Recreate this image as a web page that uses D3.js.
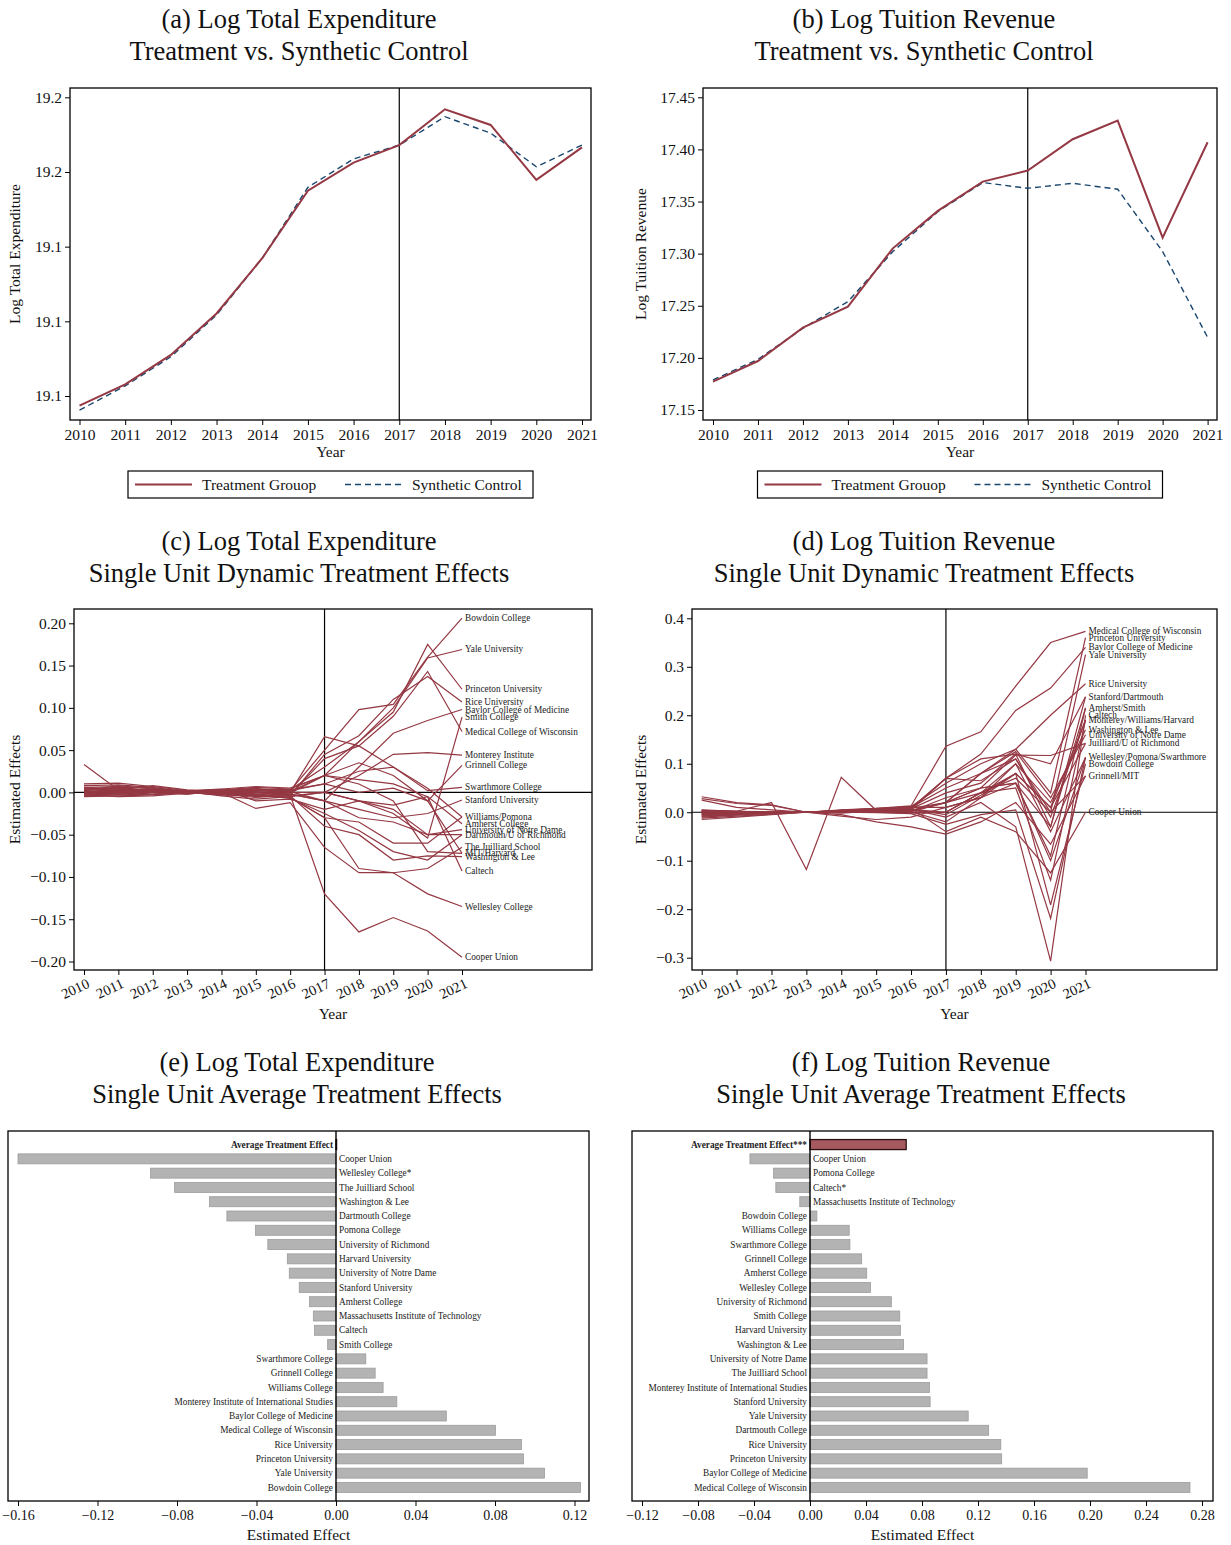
<!DOCTYPE html>
<html>
<head>
<meta charset="utf-8">
<script src="https://cdn.jsdelivr.net/npm/d3@7"></script>
<style>
  html, body { margin: 0; padding: 0; background: #fff; }
  svg { display: block; font-family: "Liberation Serif", "Times New Roman", serif; }
</style>
</head>
<body>
<svg id="fig" width="1231" height="1545"></svg>
<script>
// ---------------- data ----------------
const years = [2010, 2011, 2012, 2013, 2014, 2015, 2016, 2017, 2018, 2019, 2020, 2021];
const treatYear = 2017;

// (a) log total expenditure, treated group vs synthetic control
const expTreated   = [19.0974, 19.1031, 19.1110, 19.1221, 19.1369, 19.1550, 19.1625, 19.1672, 19.1768, 19.1726, 19.1579, 19.1666];
const expSynthetic = [19.0962, 19.1027, 19.1105, 19.1217, 19.1369, 19.1559, 19.1635, 19.1672, 19.1748, 19.1704, 19.1614, 19.1672];
const expTicks = [19.10, 19.12, 19.14, 19.16, 19.18];

// (b) log tuition revenue, treated group vs synthetic control
const tuiTreated   = [17.1772, 17.1970, 17.2290, 17.2492, 17.3051, 17.3410, 17.3691, 17.3797, 17.4098, 17.4277, 17.3154, 17.4069];
const tuiSynthetic = [17.1788, 17.1986, 17.2284, 17.2540, 17.3020, 17.3403, 17.3682, 17.3627, 17.3675, 17.3618, 17.3020, 17.2197];
const tuiTicks = [17.15, 17.20, 17.25, 17.30, 17.35, 17.40, 17.45];

const units = [
  "Bowdoin College", "Yale University", "Princeton University", "Rice University",
  "Baylor College of Medicine", "Smith College", "Medical College of Wisconsin",
  "Monterey Institute of International Studies", "Grinnell College", "Swarthmore College",
  "Stanford University", "Williams College", "Pomona College", "Amherst College",
  "University of Notre Dame", "Dartmouth College", "University of Richmond",
  "The Juilliard School", "Massachusetts Institute of Technology", "Harvard University",
  "Washington & Lee", "Caltech", "Wellesley College", "Cooper Union"
];

// (c) single-unit effects on log total expenditure, one row per unit (same order as units)
const expEffects = [
  [ 0.004,  0.006,  0.005,  0.001, -0.002,  0.003,  0.002,  0.050,  0.098,  0.104,  0.160,  0.206],
  [ 0.002,  0.008,  0.004,  0.000, -0.001,  0.004,  0.003,  0.030,  0.060,  0.100,  0.159,  0.169],
  [-0.003, -0.002,  0.002,  0.001,  0.003,  0.006,  0.004,  0.020,  0.060,  0.095,  0.175,  0.122],
  [ 0.010,  0.011,  0.007,  0.002, -0.003,  0.000, -0.004,  0.045,  0.067,  0.110,  0.137,  0.107],
  [ 0.001,  0.003,  0.002, -0.001,  0.002, -0.004, -0.002, -0.010,  0.030,  0.070,  0.085,  0.098],
  [-0.004, -0.003, -0.002,  0.001,  0.004, -0.010, -0.008, -0.020, -0.010, -0.025, -0.054,  0.089],
  [ 0.006,  0.004,  0.003,  0.000, -0.002, -0.006, -0.003,  0.040,  0.055,  0.090,  0.143,  0.072],
  [ 0.008,  0.009,  0.006,  0.001, -0.004, -0.008, -0.005,  0.000,  0.020,  0.045,  0.047,  0.044],
  [-0.002,  0.000,  0.001,  0.000,  0.001,  0.002,  0.001,  0.020,  0.035,  0.020, -0.010,  0.032],
  [ 0.003,  0.002,  0.000, -0.002,  0.002,  0.004,  0.003,  0.010,  0.025,  0.030,  0.002,  0.006],
  [-0.005, -0.004, -0.003,  0.000,  0.003,  0.001, -0.002, -0.010, -0.020, -0.030, -0.025, -0.009],
  [ 0.005,  0.004,  0.003,  0.001, -0.001, -0.003,  0.000,  0.066,  0.055,  0.030,  0.005, -0.029],
  [ 0.000,  0.001, -0.002, -0.001,  0.002, -0.002, -0.006, -0.030, -0.035, -0.060, -0.060, -0.029],
  [ 0.001,  0.000,  0.001,  0.001,  0.000, -0.005, -0.004,  0.000, -0.010, -0.015, -0.005, -0.037],
  [-0.003, -0.005, -0.004, -0.001,  0.003,  0.002,  0.000,  0.000, -0.010, -0.020, -0.050, -0.044],
  [ 0.002, -0.001,  0.000,  0.001,  0.002, -0.003, -0.007, -0.025, -0.045, -0.070, -0.080, -0.050],
  [-0.001,  0.002,  0.003,  0.000, -0.003, -0.001,  0.001, -0.010, -0.030, -0.035, -0.050, -0.050],
  [ 0.004,  0.003,  0.008,  0.003,  0.000, -0.019, -0.012, -0.065, -0.095, -0.095, -0.090, -0.065],
  [-0.002, -0.001,  0.001,  0.000,  0.001,  0.003,  0.002,  0.010,  0.000,  0.005, -0.010, -0.072],
  [ 0.003,  0.005,  0.002,  0.000, -0.001,  0.000, -0.001,  0.020,  0.010, -0.010, -0.070, -0.072],
  [ 0.000,  0.002,  0.001, -0.001,  0.001,  0.000, -0.004, -0.040, -0.050, -0.080, -0.075, -0.076],
  [-0.001, -0.002,  0.000,  0.002,  0.004,  0.007,  0.005,  0.020,  0.015,  0.010, -0.005, -0.093],
  [ 0.006,  0.007,  0.005,  0.000, -0.003, -0.004, -0.006, -0.030, -0.090, -0.095, -0.120, -0.135],
  [ 0.033,  0.003,  0.001, -0.002,  0.002,  0.005, -0.003, -0.120, -0.165, -0.148, -0.164, -0.195]
];
const expEffectTicks = [-0.20, -0.15, -0.10, -0.05, 0.00, 0.05, 0.10, 0.15, 0.20];
// end-of-line labels: [text, index of the unit whose 2021 value places it]
const expEndLabels = [
  ["Bowdoin College", 0], ["Yale University", 1], ["Princeton University", 2],
  ["Rice University", 3], ["Baylor College of Medicine", 4], ["Smith College", 5],
  ["Medical College of Wisconsin", 6], ["Monterey Institute", 7], ["Grinnell College", 8],
  ["Swarthmore College", 9], ["Stanford University", 10], ["Williams/Pomona", 11],
  ["Amherst College", 13], ["University of Notre Dame", 14], ["Dartmouth/U of Richmond", 15],
  ["The Juilliard School", 17], ["MIT/Harvard", 18], ["Washington & Lee", 20],
  ["Caltech", 21], ["Wellesley College", 22], ["Cooper Union", 23]
];

// (d) single-unit effects on log tuition revenue, same unit order
const tuiEffects = [
  [ 0.005,  0.002,  0.000,  0.000,  0.002,  0.004,  0.006, -0.005,  0.035,  0.080, -0.191,  0.100],
  [-0.005, -0.003, -0.001,  0.000,  0.003,  0.006,  0.010,  0.050,  0.080,  0.110,  0.000,  0.325],
  [-0.010, -0.006, -0.002,  0.000,  0.004,  0.007,  0.012,  0.060,  0.100,  0.130,  0.040,  0.360],
  [ 0.002,  0.001,  0.000,  0.001,  0.003,  0.005,  0.008,  0.020,  0.080,  0.130,  0.200,  0.265],
  [-0.008, -0.005, -0.002,  0.000,  0.004,  0.006,  0.009,  0.070,  0.120,  0.210,  0.256,  0.340],
  [ 0.003,  0.001, -0.001,  0.000,  0.002,  0.004,  0.003,  0.020,  0.050,  0.060, -0.030,  0.215],
  [-0.012, -0.008, -0.004,  0.000,  0.005,  0.008,  0.013,  0.136,  0.166,  0.260,  0.350,  0.373],
  [ 0.004,  0.002,  0.000,  0.000,  0.002,  0.003,  0.005,  0.070,  0.065,  0.110, -0.010,  0.190],
  [ 0.000,  0.001, -0.001,  0.000,  0.001,  0.002,  0.000,  0.000,  0.040,  0.070,  0.000,  0.075],
  [-0.003, -0.002, -0.001,  0.000,  0.002,  0.001,  0.004,  0.020,  0.050,  0.060, -0.100,  0.113],
  [-0.006, -0.004, -0.002,  0.000,  0.003,  0.005,  0.007,  0.040,  0.060,  0.120, -0.030,  0.238],
  [ 0.002,  0.000, -0.001,  0.000,  0.001,  0.000, -0.002,  0.000,  0.040,  0.050, -0.140,  0.190],
  [ 0.001,  0.000,  0.000,  0.000,  0.000, -0.001, -0.003, -0.025, -0.005,  0.005, -0.219,  0.113],
  [-0.002, -0.001,  0.000,  0.000,  0.000,  0.002,  0.001, -0.020,  0.030,  0.060, -0.090,  0.215],
  [ 0.003,  0.002,  0.001,  0.000,  0.001,  0.003,  0.002,  0.020,  0.080,  0.125,  0.030,  0.160],
  [-0.004, -0.003, -0.001,  0.000,  0.002,  0.005,  0.008,  0.070,  0.110,  0.120,  0.100,  0.238],
  [ 0.001,  0.001,  0.000,  0.000,  0.001,  0.002,  0.001,  0.020,  0.040,  0.080,  0.010,  0.142],
  [-0.001,  0.000,  0.000,  0.000,  0.001,  0.000,  0.002,  0.030,  0.050,  0.118,  0.117,  0.142],
  [ 0.025,  0.010,  0.005,  0.000, -0.005, -0.020, -0.030, -0.045, -0.020,  0.020, -0.066,  0.075],
  [ 0.032,  0.020,  0.015,  0.000, -0.008, -0.015, -0.010,  0.010,  0.030,  0.080,  0.010,  0.190],
  [-0.008, -0.004, -0.002,  0.000,  0.003,  0.004,  0.006,  0.000,  0.040,  0.100,  0.020,  0.170],
  [ 0.003,  0.002,  0.020, -0.118,  0.072,  0.004,  0.006, -0.010,  0.020, -0.030, -0.307,  0.200],
  [-0.015, -0.010, -0.005,  0.000,  0.004,  0.008,  0.010,  0.010,  0.030,  0.100, -0.040,  0.113],
  [ 0.028,  0.018,  0.014,  0.000, -0.002,  0.003,  0.008, -0.040, -0.010, -0.040, -0.125,  0.000]
];
const tuiEffectTicks = [-0.3, -0.2, -0.1, 0.0, 0.1, 0.2, 0.3, 0.4];
const tuiEndLabels = [
  ["Medical College of Wisconsin", 6], ["Princeton University", 2], ["Baylor College of Medicine", 4],
  ["Yale University", 1], ["Rice University", 3], ["Stanford/Dartmouth", 10],
  ["Amherst/Smith", 13], ["Caltech", 21], ["Monterey/Williams/Harvard", 7],
  ["Washington & Lee", 20], ["University of Notre Dame", 14], ["Juilliard/U of Richmond", 17],
  ["Wellesley/Pomona/Swarthmore", 22], ["Bowdoin College", 0], ["Grinnell/MIT", 8],
  ["Cooper Union", 23]
];

// (e) average effects on log total expenditure
const expAvgLabels = [
  "Average Treatment Effect", "Cooper Union", "Wellesley College*", "The Juilliard School",
  "Washington & Lee", "Dartmouth College", "Pomona College", "University of Richmond",
  "Harvard University", "University of Notre Dame", "Stanford University", "Amherst College",
  "Massachusetts Institute of Technology", "Caltech", "Smith College", "Swarthmore College",
  "Grinnell College", "Williams College", "Monterey Institute of International Studies",
  "Baylor College of Medicine", "Medical College of Wisconsin", "Rice University",
  "Princeton University", "Yale University", "Bowdoin College"
];
const expAvgValues = [
  0.0003, -0.160, -0.0933, -0.0812, -0.0636, -0.0549, -0.0405, -0.0343, -0.0245, -0.0235,
  -0.0185, -0.0133, -0.0114, -0.0108, -0.0042, 0.0150, 0.0197, 0.0237, 0.0306, 0.0555,
  0.0802, 0.0933, 0.0943, 0.1049, 0.1230
];
const expAvgTicks = [-0.16, -0.12, -0.08, -0.04, 0.00, 0.04, 0.08, 0.12];

// (f) average effects on log tuition revenue
const tuiAvgLabels = [
  "Average Treatment Effect***", "Cooper Union", "Pomona College", "Caltech*",
  "Massachusetts Institute of Technology", "Bowdoin College", "Williams College",
  "Swarthmore College", "Grinnell College", "Amherst College", "Wellesley College",
  "University of Richmond", "Smith College", "Harvard University", "Washington & Lee",
  "University of Notre Dame", "The Juilliard School", "Monterey Institute of International Studies",
  "Stanford University", "Yale University", "Dartmouth College", "Rice University",
  "Princeton University", "Baylor College of Medicine", "Medical College of Wisconsin"
];
const tuiAvgValues = [
  0.0687, -0.0429, -0.0260, -0.0244, -0.0073, 0.0049, 0.0280, 0.0285, 0.0369, 0.0405,
  0.0432, 0.0581, 0.0641, 0.0646, 0.0668, 0.0836, 0.0836, 0.0853, 0.0858, 0.1130,
  0.1276, 0.1363, 0.1369, 0.1980, 0.2714
];
const tuiAvgTicks = [-0.12, -0.08, -0.04, 0.00, 0.04, 0.08, 0.12, 0.16, 0.20, 0.24, 0.28];

// ---------------- drawing ----------------
const FONT = '"Liberation Serif", "Times New Roman", serif';
const RED = "#943843";
const NAVY = "#1a476f";
const INK = "#111";
const svg = d3.select("#fig");

function addTitle(cx, y, line1, line2) {
  const g = svg.append("g").attr("font-size", 26.5).attr("text-anchor", "middle").attr("fill", INK);
  g.append("text").attr("x", cx).attr("y", y).text(line1);
  g.append("text").attr("x", cx).attr("y", y + 32).text(line2);
}

function styleAxis(g, size) {
  g.attr("font-family", FONT).attr("font-size", size);
  g.select(".domain").remove();
  g.selectAll(".tick line").attr("stroke", "#000").attr("stroke-width", 1);
  g.selectAll(".tick text").attr("fill", INK);
}

function drawFrame(g, box) {
  g.append("rect")
    .attr("x", box[0]).attr("y", box[1])
    .attr("width", box[2] - box[0]).attr("height", box[3] - box[1])
    .attr("fill", "none").attr("stroke", "#000").attr("stroke-width", 1.3);
}

function yTitle(g, x, y, text) {
  g.append("text").attr("transform", `translate(${x},${y}) rotate(-90)`)
    .attr("text-anchor", "middle").attr("font-size", 15.5).attr("fill", INK).text(text);
}

// ---- treatment vs synthetic control panels ----
function comparisonPanel(o) {
  const box = o.box;
  const g = svg.append("g");
  const x = d3.scaleLinear().domain([years[0], years[years.length - 1]]).range(o.xr);
  const y = d3.scaleLinear().domain([o.ticks[0], o.ticks[o.ticks.length - 1]]).range(o.yr);

  g.append("g").attr("transform", `translate(0,${box[3]})`)
    .call(d3.axisBottom(x).tickValues(years).tickFormat(d3.format("d")).tickSize(5).tickPadding(4))
    .call(a => styleAxis(a, 15.5));
  g.append("g").attr("transform", `translate(${box[0]},0)`)
    .call(d3.axisLeft(y).tickValues(o.ticks).tickFormat(d3.format(o.fmt)).tickSize(5).tickPadding(3))
    .call(a => styleAxis(a, 15.5));

  g.append("line")
    .attr("x1", x(treatYear)).attr("x2", x(treatYear))
    .attr("y1", box[1]).attr("y2", box[3])
    .attr("stroke", "#000").attr("stroke-width", 1.2);

  const line = d3.line().x((d, i) => x(years[i])).y(d => y(d));
  g.append("path").datum(o.synthetic).attr("d", line)
    .attr("fill", "none").attr("stroke", NAVY).attr("stroke-width", 1.4)
    .attr("stroke-dasharray", "6,4");
  g.append("path").datum(o.treated).attr("d", line)
    .attr("fill", "none").attr("stroke", RED).attr("stroke-width", 2);

  drawFrame(g, box);

  const cx = (box[0] + box[2]) / 2;
  g.append("text").attr("x", cx).attr("y", box[3] + 37).attr("text-anchor", "middle")
    .attr("font-size", 15.5).attr("fill", INK).text("Year");
  yTitle(g, o.yTitleX, (box[1] + box[3]) / 2, o.yTitle);

  // legend
  const lw = 405, ly = 471, lh = 27, lx = cx - lw / 2;
  const leg = g.append("g").attr("font-size", 15.5).attr("fill", INK);
  leg.append("rect").attr("x", lx).attr("y", ly).attr("width", lw).attr("height", lh)
    .attr("fill", "#fff").attr("stroke", "#000").attr("stroke-width", 1.2);
  const my = ly + lh / 2;
  leg.append("line").attr("x1", lx + 7).attr("x2", lx + 64).attr("y1", my).attr("y2", my)
    .attr("stroke", RED).attr("stroke-width", 2);
  leg.append("text").attr("x", lx + 74).attr("y", my + 5).text("Treatment Grouop");
  leg.append("line").attr("x1", lx + 217).attr("x2", lx + 273).attr("y1", my).attr("y2", my)
    .attr("stroke", NAVY).attr("stroke-width", 1.4).attr("stroke-dasharray", "6,4");
  leg.append("text").attr("x", lx + 284).attr("y", my + 5).text("Synthetic Control");
}

// ---- single-unit dynamic effects panels ----
function effectsPanel(o) {
  const box = o.box;
  const g = svg.append("g");
  const x = d3.scaleLinear().domain([years[0], years[years.length - 1]]).range(o.xr);
  const y = d3.scaleLinear().domain([o.ticks[0], o.ticks[o.ticks.length - 1]]).range(o.yr);

  g.append("g").attr("transform", `translate(0,${box[3]})`)
    .call(d3.axisBottom(x).tickValues(years).tickFormat(d3.format("d")).tickSize(5))
    .call(a => styleAxis(a, 14.5))
    .call(a => a.selectAll(".tick text")
      .attr("x", 0).attr("y", 0).attr("dy", 0)
      .attr("text-anchor", "end")
      .attr("transform", "translate(6,17) rotate(-25)"));
  g.append("g").attr("transform", `translate(${box[0]},0)`)
    .call(d3.axisLeft(y).tickValues(o.ticks).tickFormat(d3.format(o.fmt)).tickSize(5).tickPadding(3))
    .call(a => styleAxis(a, 15.5));

  g.append("line").attr("x1", box[0]).attr("x2", box[2]).attr("y1", y(0)).attr("y2", y(0))
    .attr("stroke", "#000").attr("stroke-width", 1.2);
  g.append("line").attr("x1", x(treatYear)).attr("x2", x(treatYear))
    .attr("y1", box[1]).attr("y2", box[3]).attr("stroke", "#000").attr("stroke-width", 1.2);

  const line = d3.line().x((d, i) => x(years[i])).y(d => y(d));
  g.append("g").selectAll("path").data(o.series).join("path")
    .attr("d", line).attr("fill", "none").attr("stroke", RED).attr("stroke-width", 1.2);

  const last = years.length - 1;
  g.append("g").attr("font-size", 9.3).attr("fill", "#222")
    .selectAll("text").data(o.labels).join("text")
    .attr("x", x(years[last]) + 3)
    .attr("y", d => y(o.series[d[1]][last]))
    .attr("dy", "0.32em")
    .text(d => d[0]);

  drawFrame(g, box);

  g.append("text").attr("x", (box[0] + box[2]) / 2).attr("y", box[3] + 49).attr("text-anchor", "middle")
    .attr("font-size", 15.5).attr("fill", INK).text("Year");
  yTitle(g, o.yTitleX, (box[1] + box[3]) / 2, "Estimated Effects");
}

// ---- single-unit average effects panels ----
function averagePanel(o) {
  const box = o.box;
  const g = svg.append("g");
  const x = d3.scaleLinear().domain([o.ticks[0], o.ticks[o.ticks.length - 1]]).range(o.xr);
  const y = d3.scaleBand().domain(o.labels).range([box[1], box[3]])
    .paddingInner(0.3).paddingOuter(0.6);
  const rows = o.labels.map((name, i) => ({ name, value: o.values[i], avg: i === 0 }));

  g.append("g").attr("transform", `translate(0,${box[3]})`)
    .call(d3.axisBottom(x).tickValues(o.ticks).tickFormat(d3.format(".2f")).tickSize(5).tickPadding(4))
    .call(a => styleAxis(a, 14));

  g.append("g").selectAll("rect").data(rows).join("rect")
    .attr("x", d => Math.min(x(0), x(d.value)))
    .attr("width", d => Math.abs(x(d.value) - x(0)))
    .attr("y", d => y(d.name))
    .attr("height", y.bandwidth())
    .attr("fill", d => d.avg ? "#a65a60" : "#b3b3b3")
    .attr("stroke", d => d.avg ? "#2b1010" : "#9c9c9c")
    .attr("stroke-width", d => d.avg ? 1.3 : 0.8);

  g.append("line").attr("x1", x(0)).attr("x2", x(0)).attr("y1", box[1]).attr("y2", box[3])
    .attr("stroke", "#000").attr("stroke-width", 1.4);

  g.append("g").attr("font-size", 9.3).attr("fill", "#222")
    .selectAll("text").data(rows).join("text")
    .attr("x", d => (d.value < 0 && !d.avg) ? x(0) + 3 : x(0) - 3)
    .attr("text-anchor", d => (d.value < 0 && !d.avg) ? "start" : "end")
    .attr("y", d => y(d.name) + y.bandwidth() / 2)
    .attr("dy", "0.34em")
    .attr("font-weight", d => d.avg ? "bold" : null)
    .text(d => d.name);

  drawFrame(g, box);

  g.append("text").attr("x", (box[0] + box[2]) / 2).attr("y", box[3] + 39).attr("text-anchor", "middle")
    .attr("font-size", 15.5).attr("fill", INK).text("Estimated Effect");
}

// titles
addTitle(299, 28, "(a) Log Total Expenditure", "Treatment vs. Synthetic Control");
addTitle(924, 28, "(b) Log Tuition Revenue", "Treatment vs. Synthetic Control");
addTitle(299, 550, "(c) Log Total Expenditure", "Single Unit Dynamic Treatment Effects");
addTitle(924, 550, "(d) Log Tuition Revenue", "Single Unit Dynamic Treatment Effects");
addTitle(297, 1071, "(e) Log Total Expenditure", "Single Unit Average Treatment Effects");
addTitle(921, 1071, "(f) Log Tuition Revenue", "Single Unit Average Treatment Effects");

comparisonPanel({
  box: [70, 88, 591, 420], xr: [79.5, 582], yr: [396, 97.3],
  ticks: expTicks, fmt: ".1f", treated: expTreated, synthetic: expSynthetic,
  yTitle: "Log Total Expenditure", yTitleX: 20
});
comparisonPanel({
  box: [703, 88, 1217, 420], xr: [713, 1207.6], yr: [410, 97.3],
  ticks: tuiTicks, fmt: ".2f", treated: tuiTreated, synthetic: tuiSynthetic,
  yTitle: "Log Tuition Revenue", yTitleX: 646
});

effectsPanel({
  box: [74, 609, 592, 970], xr: [84, 462], yr: [961.5, 623.3],
  ticks: expEffectTicks, fmt: ".2f", series: expEffects, labels: expEndLabels, yTitleX: 20
});
effectsPanel({
  box: [692, 609, 1217, 970], xr: [701.7, 1085.5], yr: [957.7, 618.3],
  ticks: tuiEffectTicks, fmt: ".1f", series: tuiEffects, labels: tuiEndLabels, yTitleX: 646
});

averagePanel({
  box: [8, 1131, 589, 1501], xr: [18, 574.5],
  ticks: expAvgTicks, labels: expAvgLabels, values: expAvgValues
});
averagePanel({
  box: [632, 1131, 1213, 1501], xr: [642, 1202],
  ticks: tuiAvgTicks, labels: tuiAvgLabels, values: tuiAvgValues
});
</script>
</body>
</html>
